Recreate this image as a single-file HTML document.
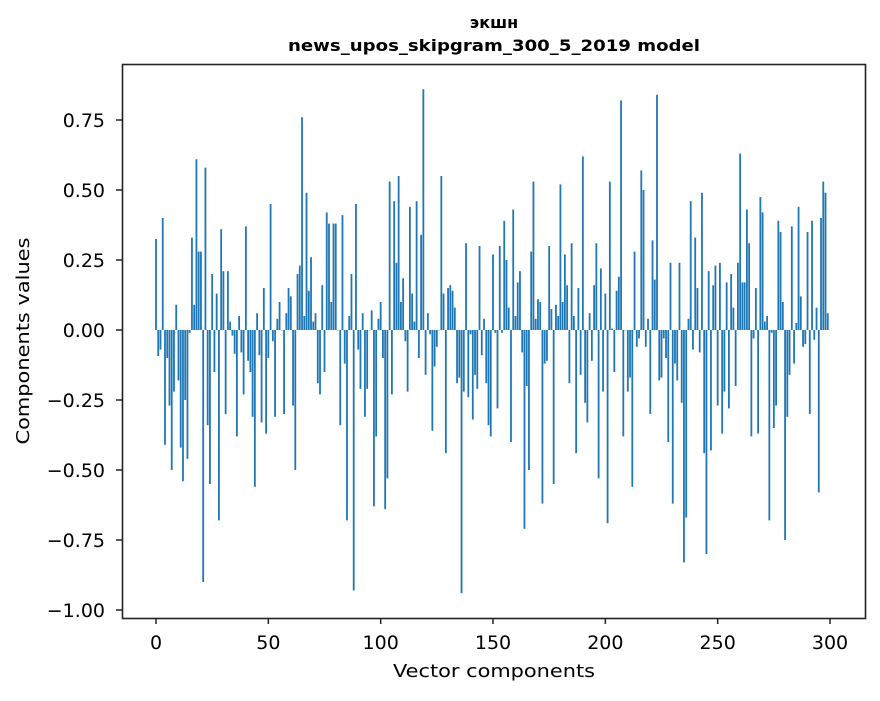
<!DOCTYPE html>
<html><head><meta charset="utf-8"><style>
body{margin:0;background:#fff;}
svg text{font-family:"DejaVu Sans","Liberation Sans",sans-serif;fill:#000;}
</style></head><body>
<svg id="chart" width="880" height="696" xmlns="http://www.w3.org/2000/svg">
<rect width="880" height="696" fill="#fff"/>
<text x="494" y="28" font-size="16" font-weight="bold" text-anchor="middle">экшн</text>
<text x="494" y="51" font-size="16" font-weight="bold" text-anchor="middle" textLength="412" lengthAdjust="spacingAndGlyphs">news_upos_skipgram_300_5_2019 model</text>
<g id="bars"></g>
<g id="xaxis"></g>
<g id="yaxis"></g>
<rect x="122.5" y="64.5" width="743" height="554" fill="none" stroke="#222" stroke-width="1.6"/>
<text x="494" y="677" font-size="18" text-anchor="middle" textLength="202" lengthAdjust="spacingAndGlyphs">Vector components</text>
<text x="29" y="341" font-size="18" text-anchor="middle" textLength="207" lengthAdjust="spacingAndGlyphs" transform="rotate(-90 29 341)">Components values</text>
</svg>
<script>
const values = [
0.325,-0.093,-0.07,0.40,-0.41,-0.10,-0.27,-0.50,-0.22,0.09,
-0.18,-0.42,-0.54,-0.25,-0.46,-0.01,0.33,0.09,0.61,0.28,
0.28,-0.90,0.58,-0.34,-0.55,0.20,-0.15,0.13,-0.68,0.36,
0.21,-0.30,0.21,0.03,-0.02,-0.085,-0.38,0.05,-0.08,-0.23,
0.37,-0.11,-0.15,-0.31,-0.56,0.06,-0.09,
-0.33,0.15,-0.37,-0.10,0.45,-0.04,-0.31,0.04,0.10,0.0,
-0.30,0.06,0.15,0.12,-0.27,-0.50,0.20,0.23,0.76,0.05,
0.49,0.14,0.26,0.03,0.06,-0.19,-0.23,0.16,-0.15,0.42,
0.38,0.10,0.38,0.38,0.00,-0.34,0.41,-0.12,-0.68,0.05,
0.20,-0.93,0.45,-0.07,-0.21,0.06,-0.31,-0.21,0.0,0.07,
-0.63,-0.38,0.04,0.10,-0.10,-0.64,-0.53,0.53,-0.23,0.46,
0.24,0.55,0.10,0.185,-0.04,-0.22,0.44,0.13,0.03,0.46,
-0.10,0.34,0.86,-0.16,0.06,-0.015,-0.36,-0.13,-0.06,0.0,0.55,
0.13,-0.44,0.15,0.16,0.14,0.08,-0.19,-0.17,-0.94,-0.22,
0.31,-0.24,-0.015,-0.32,-0.16,-0.21,0.30,-0.09,0.04,-0.19,
-0.34,-0.38,
0.27,-0.01,-0.28,0.30,-0.01,0.39,0.25,0.08,-0.40,0.43,
0.05,0.17,0.21,-0.08,-0.71,-0.20,-0.50,0.28,0.53,0.04,
0.11,0.10,-0.62,-0.12,-0.11,0.30,0.075,-0.55,0.09,0.05,
0.52,0.10,0.27,0.16,-0.19,0.31,0.05,-0.44,0.15,-0.16,
0.62,-0.26,-0.33,0.06,-0.11,0.16,0.31,-0.53,0.22,-0.22,
0.13,-0.69,0.53,0.005,-0.15,0.14,0.19,0.82,-0.38,0.0,
-0.22,-0.17,-0.56,0.28,-0.06,-0.03,0.57,0.50,-0.06,0.04,
-0.30,0.32,0.18,0.84,-0.18,-0.17,-0.03,-0.10,-0.40,0.24,
-0.62,-0.12,-0.18,0.24,-0.26,-0.83,-0.67,0.04,0.46,-0.07,
0.33,0.15,-0.08,0.49,-0.44,-0.80,0.21,-0.43,0.16,0.23,
-0.27,0.24,-0.37,-0.22,0.17,-0.28,0.20,0.08,-0.20,0.24,
0.63,0.17,0.17,0.43,0.31,-0.38,-0.03,0.15,-0.37,0.475,
0.42,0.03,0.05,-0.68,-0.01,-0.35,-0.27,0.39,0.35,0.10,
-0.75,-0.31,-0.16,0.37,-0.12,0.025,0.44,0.12,-0.06,-0.05,
0.35,-0.30,0.39,-0.035,0.08,-0.58,0.40,0.53,0.49,0.06
];
const xTicks = [0,50,100,150,200,250,300];
const yTicks = [-1.00,-0.75,-0.50,-0.25,0.00,0.25,0.50,0.75];
const yTickLabels = ["\u22121.00","\u22120.75","\u22120.50","\u22120.25","0.00","0.25","0.50","0.75"];

const NS = "http://www.w3.org/2000/svg";
function xScale(v){ return 156 + v * 2.2467; }
function yScale(v){ return 330 - v * 280; }

const barsG = document.getElementById('bars');
values.forEach(function(v, i){
  const r = document.createElementNS(NS, 'rect');
  const w = 0.8 * 2.2467;
  const y0 = yScale(0), y1 = yScale(v);
  r.setAttribute('x', xScale(i) - w / 2);
  r.setAttribute('y', Math.min(y0, y1));
  r.setAttribute('width', w);
  r.setAttribute('height', Math.max(Math.abs(y1 - y0), 0.3));
  r.setAttribute('fill', '#1f77b4');
  
  
  barsG.appendChild(r);
});

const xg = document.getElementById('xaxis');
xTicks.forEach(function(t){
  const x = xScale(t);
  const l = document.createElementNS(NS, 'line');
  l.setAttribute('x1', x); l.setAttribute('x2', x);
  l.setAttribute('y1', 618.5); l.setAttribute('y2', 624);
  l.setAttribute('stroke', '#222'); l.setAttribute('stroke-width', '1.5');
  
  
  xg.appendChild(l);
  const tx = document.createElementNS(NS, 'text');
  tx.setAttribute('x', x); tx.setAttribute('y', 649);
  tx.setAttribute('font-size', '19'); tx.setAttribute('text-anchor', 'middle');
  tx.textContent = String(t);
  
  
  xg.appendChild(tx);
});

const yg = document.getElementById('yaxis');
yTicks.forEach(function(t, k){
  const y = yScale(t);
  const l = document.createElementNS(NS, 'line');
  l.setAttribute('x1', 116); l.setAttribute('x2', 122.5);
  l.setAttribute('y1', y); l.setAttribute('y2', y);
  l.setAttribute('stroke', '#222'); l.setAttribute('stroke-width', '1.5');
  
  
  yg.appendChild(l);
  const tx = document.createElementNS(NS, 'text');
  tx.setAttribute('x', 105); tx.setAttribute('y', y + 7);
  tx.setAttribute('font-size', '19'); tx.setAttribute('text-anchor', 'end');
  tx.textContent = yTickLabels[k];
  
  
  yg.appendChild(tx);
});
</script>
</body></html>
